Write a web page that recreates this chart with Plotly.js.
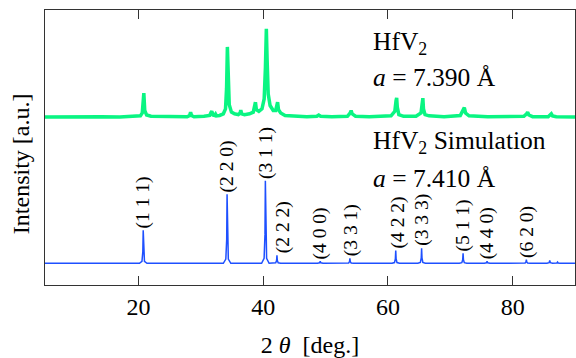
<!DOCTYPE html>
<html>
<head>
<meta charset="utf-8">
<script src="https://cdn.plot.ly/plotly-3.0.1.min.js"></script>
<style>html,body{margin:0;padding:0;background:#fff;}#chart{width:576px;height:358px;}</style>
</head>
<body>
<div id="chart"></div>
<script>
// Measured pattern (HfV2, a = 7.390 Å), relative intensity above its own baseline
const expTwoTheta = [
  5, 8, 11, 14, 17, 19.5, 20.3, 20.6, 20.75, 20.85, 21.0, 21.3, 22, 25,
  27.8, 28.2, 28.35, 28.5, 28.9, 30.5, 31.4, 31.65, 31.75, 31.95, 32.2, 32.35, 32.5,
  33.0, 33.6, 33.95, 34.12, 34.25, 34.35, 34.55, 34.9, 35.4, 36.0, 36.3, 36.4, 36.55,
  37.0, 37.8, 38.4, 38.65, 38.75, 38.9, 39.3, 39.8, 40.15, 40.35, 40.5, 40.62, 40.8,
  41.1, 41.6, 42.0, 42.2, 42.3, 42.45, 42.8, 43.5, 45, 47, 48.6, 48.9, 49.2,
  51, 53.5, 53.95, 54.1, 54.25, 54.8, 57, 60.5, 61.1, 61.3, 61.4, 61.5, 61.75,
  62.5, 64.5, 65.3, 65.5, 65.6, 65.7, 65.95, 66.6, 69, 71.6, 72.05, 72.25, 72.45,
  73.0, 76, 81.8, 82.25, 82.4, 82.6, 83.2, 85.7, 86.05, 86.2, 86.4, 87, 90
];
const expIntensity = [
  0, 0.5, 0, 0.5, 0, 0.5, 1.5, 5, 18, 29, 8, 2.5, 1, 0.5,
  0.5, 2, 6, 2, 0.5, 1, 2, 6, 7, 2.5, 2, 3.6, 1.5,
  2, 4, 10, 35, 85, 50, 15, 6, 4, 3, 5, 8.5, 4,
  3, 4, 6, 13, 18, 9, 7, 10, 22, 60, 107, 70, 28,
  14, 8, 8, 13, 18, 9, 5, 2, 1, 0.5, 1, 2.5, 1,
  0.5, 1, 5, 8, 4, 1, 0.5, 1.5, 7, 20, 23.4, 12, 3,
  1, 1, 5, 18, 23, 10, 3, 1.5, 0.5, 2, 8, 11.5, 5,
  1.5, 0.5, 1, 4, 6, 2.5, 0.5, 0.5, 2.5, 4, 1.5, 0.5, 0
];
const expOffset = 177;

// Simulated pattern (HfV2, a = 7.410 Å)
const simTwoTheta = [
  5,
  20.15, 20.55, 20.69, 20.75, 20.81, 20.95, 21.35,
  33.6, 34.0, 34.14, 34.2, 34.26, 34.4, 34.8,
  39.74, 40.14, 40.28, 40.34, 40.40, 40.54, 40.94,
  41.6, 42.0, 42.14, 42.2, 42.26, 42.4, 42.8,
  48.7, 49.04, 49.14, 49.24, 49.6,
  53.3, 53.7, 53.84, 53.9, 53.96, 54.1, 54.5,
  60.65, 61.05, 61.19, 61.25, 61.31, 61.45, 61.85,
  64.8, 65.2, 65.34, 65.4, 65.46, 65.6, 66.0,
  71.45, 71.85, 71.99, 72.05, 72.11, 72.25, 72.65,
  75.45, 75.8, 75.9, 76.0, 76.35,
  81.6, 82.0, 82.14, 82.2, 82.26, 82.4, 82.8,
  85.5, 85.85, 85.95, 86.05, 86.4,
  86.9, 87.1, 87.2, 87.3, 87.6,
  90
];
const simIntensity = [
  0,
  0, 2.4, 14, 40, 14, 2.4, 0,
  0, 5, 29, 83.5, 29, 5, 0,
  0, 6, 35, 100, 35, 6, 0,
  0, 0.6, 3.4, 9.7, 3.4, 0.6, 0,
  0, 0.6, 2.5, 0.6, 0,
  0, 0.4, 2.1, 6, 2.1, 0.4, 0,
  0, 0.9, 5.4, 15.3, 5.4, 0.9, 0,
  0, 1.1, 6.4, 18.2, 6.4, 1.1, 0,
  0, 0.7, 4.2, 12, 4.2, 0.7, 0,
  0, 0.6, 2.5, 0.6, 0,
  0, 0.3, 1.6, 4.5, 1.6, 0.3, 0,
  0, 0.8, 3.5, 0.8, 0,
  0, 0.4, 1.5, 0.4, 0,
  0
];

// Miller index labels and the simulated peaks they sit on
const hklLabels = ['(1 1 1)', '(2 2 0)', '(3 1 1)', '(2 2 2)', '(4 0 0)', '(3 3 1)',
                   '(4 2 2)', '(3 3 3)', '(5 1 1)', '(4 4 0)', '(6 2 0)'];
const hklTwoTheta = [20.75, 34.2, 40.34, 42.2, 49.14, 53.9, 61.25, 65.4, 72.05, 75.9, 82.2];
const hklIntensity = [40, 83.5, 100, 9.7, 2.5, 6, 15.3, 18.2, 12, 2.5, 4.5];
const hklShift = [0, 0, 0, 6, 0, 1, 2, 1, 0, 0, 0];

const tickValues = [20, 40, 60, 80];
const tickLabels = ['20', '40', '60', '80'];

const FONT = '"Liberation Serif", "Times New Roman", serif';

const traces = [
  {
    x: expTwoTheta,
    y: expIntensity.map(v => v + expOffset),
    type: 'scatter', mode: 'lines',
    line: {color: 'rgb(10,245,130)', width: 3.5},
    hoverinfo: 'skip', showlegend: false
  },
  {
    x: simTwoTheta,
    y: simIntensity,
    type: 'scatter', mode: 'lines',
    line: {color: 'rgb(30,80,255)', width: 1.5},
    hoverinfo: 'skip', showlegend: false
  }
];

const annotations = hklLabels.map((t, i) => ({
  x: hklTwoTheta[i], y: hklIntensity[i], xref: 'x', yref: 'y',
  text: t, textangle: -90, showarrow: false,
  xanchor: 'center', yanchor: 'bottom', xshift: hklShift[i], yshift: 0,
  font: {family: FONT, size: 19.5, color: '#000'}
}));

const textLines = [
  {t: 'HfV<sub>2</sub>', y: 0.88},
  {t: '<i>a</i> = 7.390 Å', y: 0.756},
  {t: 'HfV<sub>2</sub> Simulation', y: 0.52},
  {t: '<i>a</i> = 7.410 Å', y: 0.3865}
];
textLines.forEach(l => annotations.push({
  x: 0.616, y: l.y, xref: 'paper', yref: 'paper', text: l.t, showarrow: false,
  xanchor: 'left', yanchor: 'middle',
  font: {family: FONT, size: 25.5, color: '#000'}
}));

// y-axis title placed as a rotated annotation so it can sit further left
annotations.push({
  x: -0.045, y: 0.44, xref: 'paper', yref: 'paper', text: 'Intensity [a.u.]',
  textangle: -90, showarrow: false, xanchor: 'center', yanchor: 'middle',
  font: {family: FONT, size: 24, color: '#000'}
});

const layout = {
  width: 576, height: 358,
  margin: {l: 45, r: 1, t: 10, b: 73},
  paper_bgcolor: '#fff', plot_bgcolor: '#fff',
  showlegend: false,
  font: {family: FONT, size: 24, color: '#000'},
  xaxis: {
    range: [5, 90], tickvals: tickValues, ticktext: tickLabels,
    ticks: 'inside', ticklen: 9, tickwidth: 1, tickcolor: '#333',
    showline: true, linecolor: '#333', linewidth: 1, mirror: 'ticks',
    showgrid: false, zeroline: false,
    tickfont: {family: FONT, size: 24, color: '#000'},
    title: {text: '2 <i>θ</i>  [deg.]', font: {family: FONT, size: 24, color: '#000'}, standoff: 22}
  },
  yaxis: {
    range: [-26.3, 306.7],
    showticklabels: false, ticks: '',
    showline: true, linecolor: '#333', linewidth: 1, mirror: true,
    showgrid: false, zeroline: false
  },
  annotations: annotations
};

Plotly.newPlot('chart', traces, layout, {staticPlot: true, displayModeBar: false});
</script>
</body>
</html>
